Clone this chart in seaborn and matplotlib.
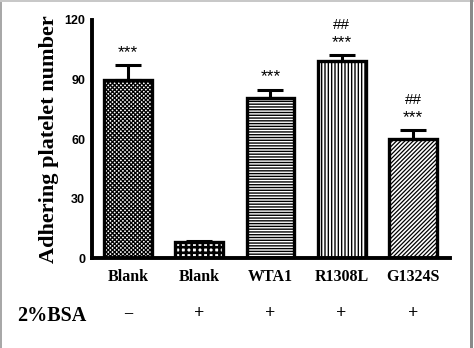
import matplotlib
matplotlib.use("Agg")
import matplotlib.pyplot as plt
import seaborn as sns
import pandas as pd
import numpy as np
from matplotlib.patches import Rectangle

groups = ["Blank", "Blank ", "WTA1", "R1308L", "G1324S"]
tick_labels = ["Blank", "Blank", "WTA1", "R1308L", "G1324S"]
means = [90.0, 8.0, 80.5, 99.5, 60.3]
errors = [7.3, 0.6, 4.5, 2.9, 4.2]
stars = ["***", "", "***", "***", "***"]
hashes = ["", "", "", "##", "##"]
bsa = ["\u2212", "+", "+", "+", "+"]
hatches = ["xxxxxxxx", "+++", "------", "|||||", "////////"]
hatch_lw = [0.9, 1.9, 1.0, 1.0, 0.9]

sns.set_theme(style="white")
plt.rcParams["hatch.linewidth"] = 1.0

df = pd.DataFrame({"group": groups, "value": means})

fig = plt.figure(figsize=(4.74, 3.48), dpi=100)
left, right = 91.5 / 474, 450 / 474
bottom, top = 1 - 258.3 / 348, 1 - 20 / 348
ax = fig.add_axes([left, bottom, right - left, top - bottom])

sns.barplot(data=df, x="group", y="value", color="white", width=0.67,
            edgecolor="black", linewidth=2.4, errorbar=None, ax=ax)

has_hlw = hasattr(ax.patches[0], "set_hatch_linewidth")
for p, h, lw in zip(ax.patches, hatches, hatch_lw):
    p.set_hatch(h)
    p.set_facecolor("white")
    p.set_edgecolor("black")
    if has_hlw:
        p.set_hatch_linewidth(lw)

x = np.arange(len(means))
ax.errorbar(x, means, yerr=[np.zeros(len(means)), errors], fmt="none",
            ecolor="black", elinewidth=2.2, capsize=9.5, capthick=2.2, zorder=1)

ax.set_xlim(-0.51, 4.52)
ax.set_ylim(0, 120)
ax.set_yticks([0, 30, 60, 90, 120])
ax.set_xticks(x)
ax.set_xticklabels(tick_labels, fontfamily="Liberation Serif", fontweight="bold",
                   fontsize=11.5, color="black")
for lab in ax.get_yticklabels():
    lab.set_fontfamily("Liberation Sans")
    lab.set_fontweight("bold")
    lab.set_fontsize(9)
    lab.set_color("black")

ax.tick_params(axis="both", direction="out", length=4, width=2.2, color="black")
ax.tick_params(axis="y", pad=0.5)
ax.tick_params(axis="x", pad=4)
for s in ["top", "right"]:
    ax.spines[s].set_visible(False)
for s in ["left", "bottom"]:
    ax.spines[s].set_color("black")
    ax.spines[s].set_linewidth(2.8)

ax.set_xlabel("")
ax.set_ylabel("Adhering platelet number", fontfamily="Liberation Serif",
              fontweight="bold", fontsize=16, color="black", labelpad=4)

for i in range(len(means)):
    top_v = means[i] + errors[i]
    if stars[i]:
        ax.text(i, top_v + 2.5, stars[i], ha="center", va="bottom",
                fontfamily="Liberation Sans", fontsize=12.5, color="black")
    if hashes[i]:
        ax.text(i, top_v + 11.5, hashes[i], ha="center", va="bottom",
                fontfamily="Liberation Sans", fontsize=11, color="black")

# BSA row
fig.text(17 / 474, 1 - 316 / 348, "2%BSA", ha="left", va="center",
         fontfamily="Liberation Serif", fontweight="bold", fontsize=14.5, color="black")
for i, s in enumerate(bsa):
    xf = ax.transData.transform((i, 0))[0] / fig.bbox.width
    fig.text(xf, 1 - 314 / 348, s, ha="center", va="center",
             fontfamily="Liberation Serif", fontweight="bold" if s == "+" else "normal",
             fontsize=13, color="black")

# gray frame
fig.add_artist(Rectangle((0, 0), 2 / 474, 1, transform=fig.transFigure,
                         color="#a8a8a8", lw=0))
fig.add_artist(Rectangle((0, 1 - 2 / 348), 1, 2 / 348, transform=fig.transFigure,
                         color="#c8c8c8", lw=0))
fig.add_artist(Rectangle((1 - 4 / 474, 0), 3 / 474, 1, transform=fig.transFigure,
                         color="#8a8a8a", lw=0))

fig.savefig("out.png", dpi=100, facecolor="white")
